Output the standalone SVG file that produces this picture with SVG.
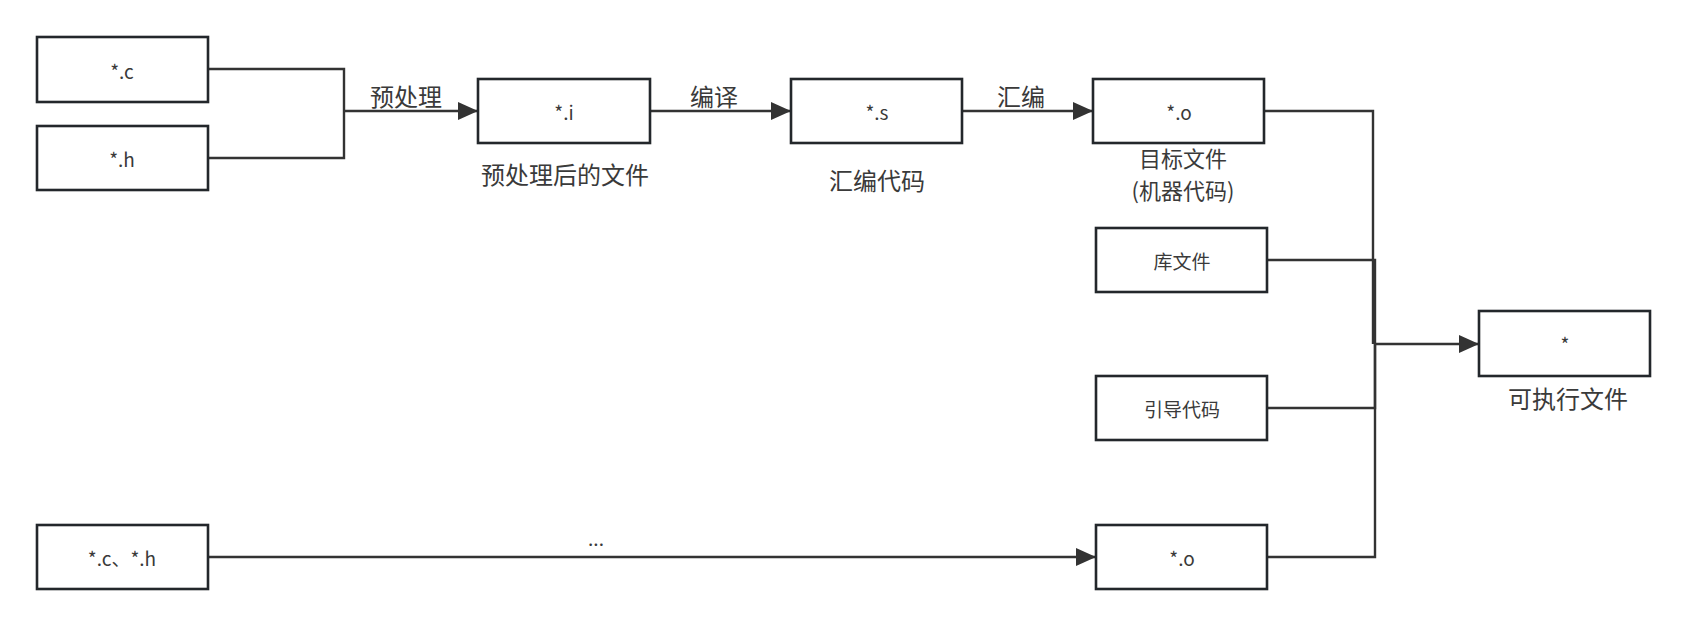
<svg xmlns="http://www.w3.org/2000/svg" width="1701" height="627" viewBox="0 0 1701 627">
<style>
.box{fill:#fff;stroke:#23272b;stroke-width:2.6}
.t{font-family:"Noto Sans CJK SC","Noto Sans",sans-serif;fill:#3a3a3a;text-anchor:middle;dominant-baseline:central}
.bt{font-size:19px}
.lt{font-size:24px}
.st{font-size:22px}
.c{fill:none;stroke:#333;stroke-width:2.4}
</style>
<defs>
<marker id="a" viewBox="0 0 20 18" refX="19" refY="9" markerWidth="20" markerHeight="18" orient="auto" markerUnits="userSpaceOnUse">
<path d="M0,0 L20,9 L0,18 Z" fill="#333"/>
</marker>
</defs>
<rect width="1701" height="627" fill="#fff"/>
<g id="connectors">
<path class="c" d="M208,69 H344 V111"/>
<path class="c" d="M208,158 H344 V111"/>
<path class="c" d="M344,111 H477" marker-end="url(#a)"/>
<path class="c" d="M650,111 H790" marker-end="url(#a)"/>
<path class="c" d="M962,111 H1092" marker-end="url(#a)"/>
<path class="c" d="M1264,111 H1373 V344"/>
<path class="c" d="M1267,260 H1375 V344"/>
<path class="c" d="M1267,408 H1375 V344"/>
<path class="c" d="M1267,557 H1375 V344"/>
<path class="c" d="M1374,344 H1478" stroke-width="3.2" marker-end="url(#a)"/>
<path class="c" d="M208,557 H1095" marker-end="url(#a)"/>
<text class="t lt" x="406" y="95">预处理</text>
<text class="t lt" x="714" y="95">编译</text>
<text class="t lt" x="1021" y="95">汇编</text>
<text class="t bt" x="596" y="537">...</text>
</g>
<g id="n-c"><rect class="box" x="37" y="37" width="171" height="65"/><text class="t bt" x="122" y="70">*.c</text></g>
<g id="n-h"><rect class="box" x="37" y="126" width="171" height="64"/><text class="t bt" x="122" y="158">*.h</text></g>
<g id="n-i"><rect class="box" x="478" y="79" width="172" height="64"/><text class="t bt" x="564" y="111">*.i</text><text class="t lt" x="565" y="173">预处理后的文件</text></g>
<g id="n-s"><rect class="box" x="791" y="79" width="171" height="64"/><text class="t bt" x="877" y="111">*.s</text><text class="t lt" x="877" y="179">汇编代码</text></g>
<g id="n-o"><rect class="box" x="1093" y="79" width="171" height="64"/><text class="t bt" x="1179" y="111">*.o</text><text class="t st" x="1183" y="157">目标文件</text><text class="t st" x="1183" y="189">(机器代码)</text></g>
<g id="n-lib"><rect class="box" x="1096" y="228" width="171" height="64"/><text class="t bt" x="1182" y="260">库文件</text></g>
<g id="n-boot"><rect class="box" x="1096" y="376" width="171" height="64"/><text class="t bt" x="1182" y="408">引导代码</text></g>
<g id="n-ch"><rect class="box" x="37" y="525" width="171" height="64"/><text class="t bt" x="122" y="557">*.c、*.h</text></g>
<g id="n-o2"><rect class="box" x="1096" y="525" width="171" height="64"/><text class="t bt" x="1182" y="557">*.o</text></g>
<g id="n-exe"><rect class="box" x="1479" y="311" width="171" height="65"/><text class="t bt" x="1565" y="343">*</text><text class="t lt" x="1568" y="397">可执行文件</text></g>
</svg>
